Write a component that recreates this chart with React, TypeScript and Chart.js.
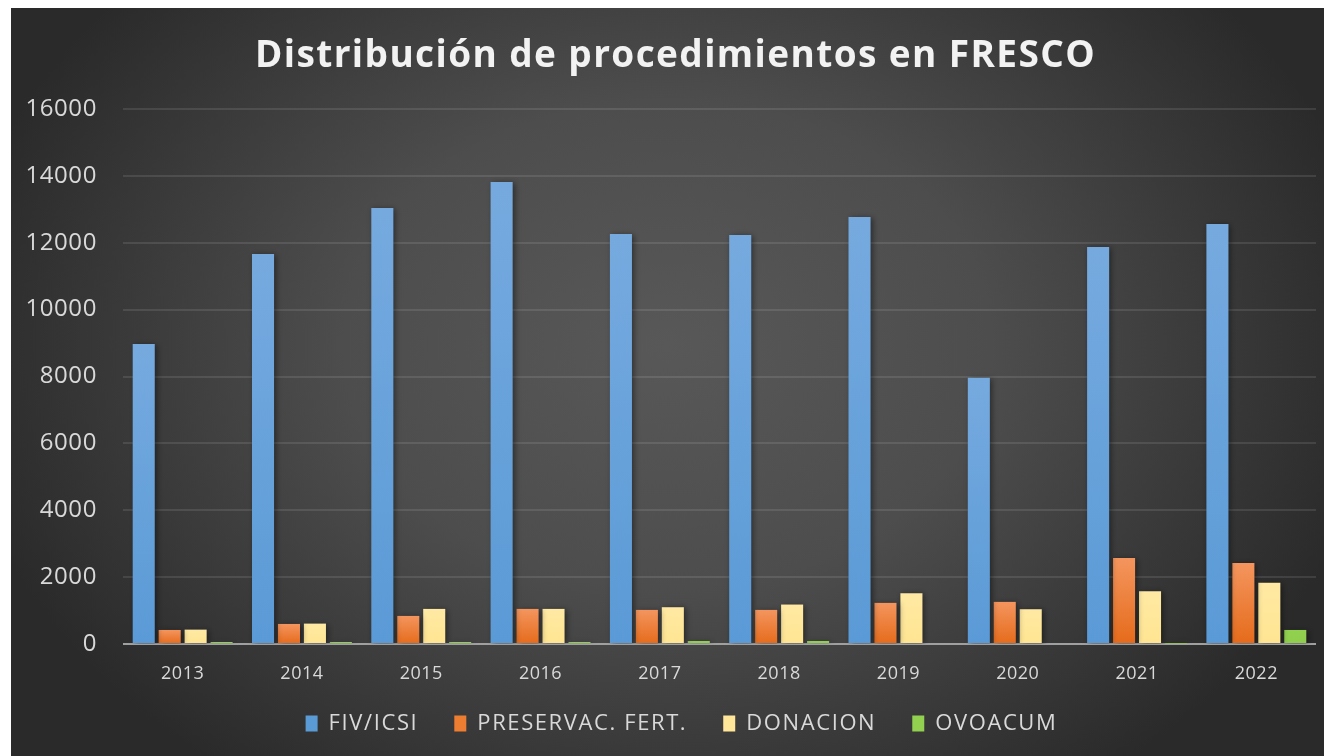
import React, { useEffect, useRef } from "react";
import { Chart, registerables } from "chart.js";

Chart.register(...registerables);

const categories = ["2013", "2014", "2015", "2016", "2017", "2018", "2019", "2020", "2021", "2022"];
const fivIcsi = [8970, 11660, 13040, 13820, 12260, 12230, 12770, 7960, 11870, 12560];
const preservacFert = [420, 600, 840, 1050, 1020, 1020, 1230, 1260, 2570, 2420];
const donacion = [430, 610, 1050, 1050, 1100, 1180, 1520, 1040, 1580, 1830];
const ovoacum = [60, 60, 60, 60, 90, 90, 0, 0, 10, 420];
const seriesLabels = ["FIV/ICSI", "PRESERVAC. FERT.", "DONACION", "OVOACUM"];
const yMin = 0;
const yMax = 16000;
const yStep = 2000;
const titleText = "Distribución de procedimientos en FRESCO";

const FONT = "'Open Sans', 'Noto Sans', 'DejaVu Sans', sans-serif";
const solidColors = ["#5b9bd5", "#ed7d31", "#ffe699", "#92d050"];
const gradTop = ["#76aadf", "#f4955e", "#ffe9a3", "#92d050"];
const gradBottom = ["#5a9ad6", "#e56b1b", "#ffe592", "#8fce4b"];

function wrapDraw(obj: any, method: string, spacing: string, dx = 0, dy = 0) {
  if (!obj || obj["__ls_" + method]) return;
  const orig = obj[method];
  obj["__ls_" + method] = true;
  obj[method] = function (...args: any[]) {
    const ctx = this.ctx;
    ctx.save();
    ctx.letterSpacing = spacing;
    if (dx || dy) ctx.translate(dx, dy);
    try {
      return orig.apply(this, args);
    } finally {
      ctx.restore();
    }
  };
}

const spacingPlugin = {
  id: "spacingPlugin",
  beforeLayout(chart: any) {
    wrapDraw(chart.titleBlock, "draw", "1.4px", 12, 0);
    wrapDraw(chart.legend, "draw", "1.6px", 18, -14.5);
    wrapDraw(chart.legend, "fit", "1.6px");
    if (chart.legend && !chart.legend.__fixedH) {
      const lg = chart.legend;
      const f = lg.fit;
      lg.__fixedH = true;
      lg.fit = function (...a: any[]) {
        f.apply(this, a);
        this.height = 65;
      };
    }
    if (chart.scales.x) wrapDraw(chart.scales.x, "drawLabels", "0.5px");
    if (chart.scales.y) wrapDraw(chart.scales.y, "drawLabels", "0.6px");
  },
};

const bgPlugin = {
  id: "bgPlugin",
  beforeDraw(chart: any) {
    const { ctx, width, height } = chart;
    ctx.save();
    ctx.fillStyle = "#2a2a2a";
    ctx.fillRect(0, 0, width, height);
    ctx.translate(width * 0.5, height * 0.45);
    ctx.scale(1, 0.75);
    const g = ctx.createRadialGradient(0, 0, 0, 0, 0, 720);
    g.addColorStop(0, "#585858");
    g.addColorStop(0.45, "#4d4d4d");
    g.addColorStop(1, "#2a2a2a");
    ctx.fillStyle = g;
    ctx.fillRect(-width, -height * 2, width * 2, height * 4);
    ctx.restore();
  },
};

const shadowPlugin = {
  id: "shadowPlugin",
  beforeDatasetsDraw(chart: any) {
    const ctx = chart.ctx;
    ctx.save();
    ctx.shadowColor = "rgba(0,0,0,0.45)";
    ctx.shadowBlur = 6;
    ctx.shadowOffsetX = 2;
    ctx.shadowOffsetY = 1;
  },
  afterDatasetsDraw(chart: any) {
    chart.ctx.restore();
  },
};

function barGradient(index: number) {
  return (c: any) => {
    const chart = c.chart;
    const area = chart.chartArea;
    if (!area || c.type !== "data" || !c.parsed) return solidColors[index];
    const y = chart.scales.y;
    const top = y.getPixelForValue(c.parsed.y);
    const base = y.getPixelForValue(0);
    if (!isFinite(top) || base - top < 1) return gradBottom[index];
    const g = chart.ctx.createLinearGradient(0, top, 0, base);
    g.addColorStop(0, gradTop[index]);
    g.addColorStop(1, gradBottom[index]);
    return g;
  };
}

export default function App() {
  const ref = useRef<HTMLCanvasElement>(null);

  useEffect(() => {
    const seriesData = [fivIcsi, preservacFert, donacion, ovoacum];
    const chart = new Chart(ref.current as HTMLCanvasElement, {
      type: "bar",
      data: {
        labels: categories,
        datasets: seriesData.map((d, i) => ({
          label: seriesLabels[i],
          data: d,
          backgroundColor: barGradient(i) as any,
          borderWidth: 0,
          categoryPercentage: 0.87,
          barPercentage: 0.85,
        })),
      },
      options: {
        animation: false,
        responsive: true,
        maintainAspectRatio: false,
        layout: { padding: { left: 0, right: 8, top: 0, bottom: 0 } },
        plugins: {
          tooltip: { enabled: false },
          title: {
            display: true,
            text: titleText,
            color: "#f2f2f2",
            font: { family: FONT, size: 37, weight: "bold" },
            padding: { top: 25.8, bottom: 30.8 },
          },
          legend: {
            position: "bottom",
            labels: {
              color: "#d9d9d9",
              font: { family: FONT, size: 22 },
              boxWidth: 12,
              boxHeight: 16,
              padding: 36,
              generateLabels: (ch: any) => {
                const items = Chart.defaults.plugins.legend.labels.generateLabels(ch);
                return items.map((it: any, i: number) => ({
                  ...it,
                  fillStyle: solidColors[i],
                  strokeStyle: solidColors[i],
                  lineWidth: 0,
                }));
              },
            },
          },
        },
        scales: {
          x: {
            grid: { display: false, drawTicks: false },
            border: { display: false },
            ticks: {
              color: "#d9d9d9",
              font: { family: FONT, size: 18 },
              padding: 19,
            },
            afterFit: (s: any) => {
              s.height = 47;
            },
          },
          y: {
            min: yMin,
            max: yMax,
            border: { display: false },
            grid: {
              drawTicks: false,
              lineWidth: 2,
              color: (c: any) => (c.tick && c.tick.value === 0 ? "#a0a0a0" : "rgba(255,255,255,0.1)"),
            },
            ticks: {
              stepSize: yStep,
              color: "#d9d9d9",
              font: { family: FONT, size: 24 },
              padding: 26,
              callback: (v: any) => String(v),
            },
            afterFit: (s: any) => {
              s.width = 112;
            },
          },
        },
      },
      plugins: [bgPlugin, shadowPlugin, spacingPlugin],
    });
    return () => chart.destroy();
  }, []);

  return (
    <div style={{ position: "fixed", left: 11, top: 8, width: 1313, height: 748 }}>
      <canvas ref={ref} />
    </div>
  );
}
